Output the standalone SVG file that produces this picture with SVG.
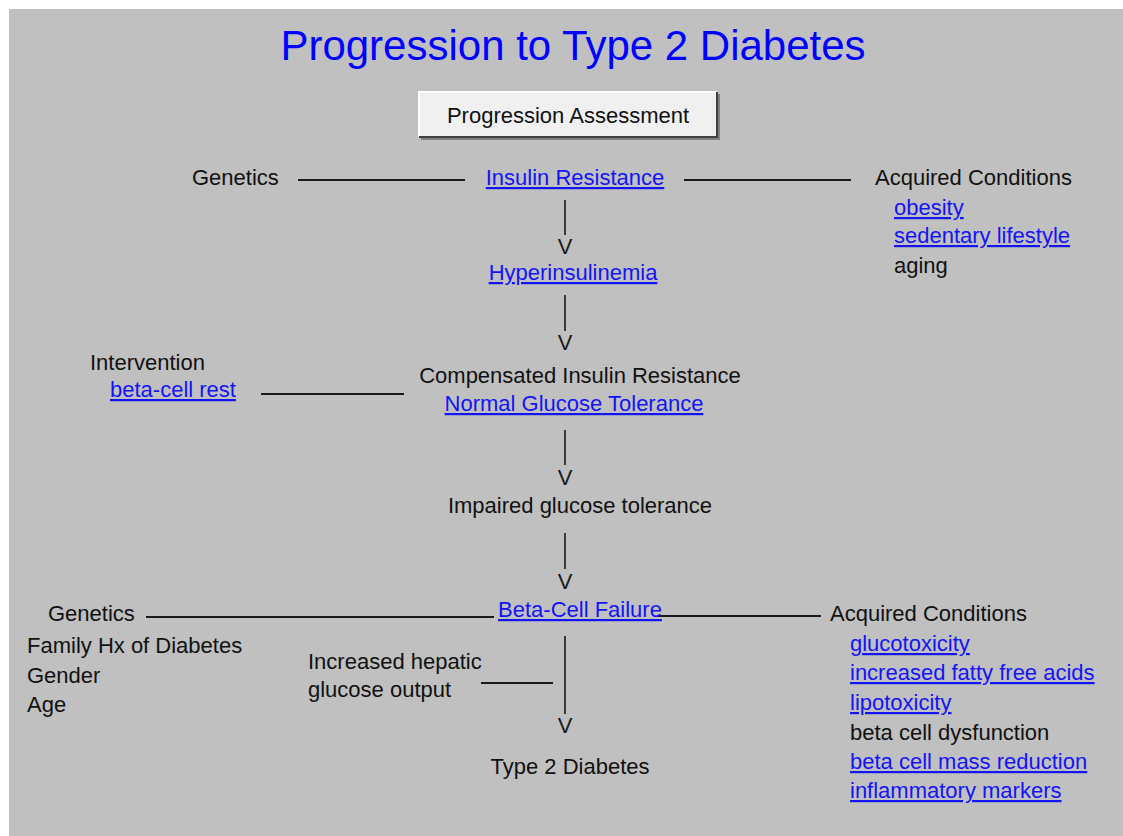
<svg xmlns="http://www.w3.org/2000/svg" width="1123" height="836" viewBox="0 0 1123 836">
<style>
text{font-family:"Liberation Sans",Arial,sans-serif;font-size:22px;fill:#111}
.title{font-size:42px;fill:#0000ff}
.link{fill:#1414f5;text-decoration:underline}
.mid{text-anchor:middle}
.conn{stroke:#1a1a1a;stroke-width:2;fill:none}
.vline{stroke:#3a3a3a;stroke-width:2;fill:none}
.head{text-anchor:middle;fill:#1a1a1a}
</style>
<rect x="0" y="0" width="1123" height="836" fill="#ffffff"/>
<rect x="9" y="9" width="1114" height="827" fill="#c0c0c0"/>
<text class="title mid" x="573" y="60">Progression to Type 2 Diabetes</text>
<g id="button">
<rect x="419" y="92" width="298" height="45" fill="#f0f0f0"/>
<path d="M419 137 V92 H717" stroke="#ffffff" stroke-width="2" fill="none"/>
<path d="M419 137 H717 V92" stroke="#404040" stroke-width="2" fill="none"/>
<path d="M421 139 H719 V94" stroke="#808080" stroke-width="2" fill="none"/>
<text class="mid" x="568" y="123">Progression Assessment</text>
</g>
<g id="connectors">
<line class="conn" x1="298" y1="180" x2="465" y2="180"/>
<line class="conn" x1="684" y1="180" x2="851" y2="180"/>
<line class="conn" x1="261" y1="394" x2="404" y2="394"/>
<line class="conn" x1="146" y1="617" x2="494" y2="617"/>
<line class="conn" x1="657" y1="616" x2="821" y2="616"/>
<line class="conn" x1="481" y1="683" x2="553" y2="683"/>
<line class="vline" x1="565" y1="200" x2="565" y2="235"/>
<text class="head" x="565" y="254">V</text>
<line class="vline" x1="565" y1="295" x2="565" y2="331"/>
<text class="head" x="565" y="350">V</text>
<line class="vline" x1="565" y1="430" x2="565" y2="465"/>
<text class="head" x="565" y="485">V</text>
<line class="vline" x1="565" y1="533" x2="565" y2="569"/>
<text class="head" x="565" y="589">V</text>
<line class="vline" x1="565" y1="636" x2="565" y2="714"/>
<text class="head" x="565" y="733">V</text>
</g>
<g id="genetics-top"><text x="192" y="185">Genetics</text></g>
<g id="insulin-resistance"><text class="link mid" x="575" y="185">Insulin Resistance</text></g>
<g id="acquired-top">
<text x="875" y="185">Acquired Conditions</text>
<text class="link" x="894" y="215">obesity</text>
<text class="link" x="894" y="243">sedentary lifestyle</text>
<text x="894" y="273">aging</text>
</g>
<g id="hyperinsulinemia"><text class="link mid" x="573" y="280">Hyperinsulinemia</text></g>
<g id="intervention">
<text x="90" y="370">Intervention</text>
<text class="link" x="110" y="397">beta-cell rest</text>
</g>
<g id="compensated">
<text class="mid" x="580" y="383">Compensated Insulin Resistance</text>
<text class="link mid" x="574" y="411">Normal Glucose Tolerance</text>
</g>
<g id="impaired"><text class="mid" x="580" y="513">Impaired glucose tolerance</text></g>
<g id="beta-cell-failure"><text class="link mid" x="580" y="617">Beta-Cell Failure</text></g>
<g id="genetics-bottom">
<text x="48" y="621">Genetics</text>
<text x="27" y="653">Family Hx of Diabetes</text>
<text x="27" y="683">Gender</text>
<text x="27" y="712">Age</text>
</g>
<g id="hepatic">
<text x="308" y="669">Increased hepatic</text>
<text x="308" y="697">glucose output</text>
</g>
<g id="acquired-bottom">
<text x="830" y="621">Acquired Conditions</text>
<text class="link" x="850" y="651">glucotoxicity</text>
<text class="link" x="850" y="680">increased fatty free acids</text>
<text class="link" x="850" y="710">lipotoxicity</text>
<text x="850" y="740">beta cell dysfunction</text>
<text class="link" x="850" y="769">beta cell mass reduction</text>
<text class="link" x="850" y="798">inflammatory markers</text>
</g>
<g id="type2"><text class="mid" x="570" y="774">Type 2 Diabetes</text></g>
</svg>
